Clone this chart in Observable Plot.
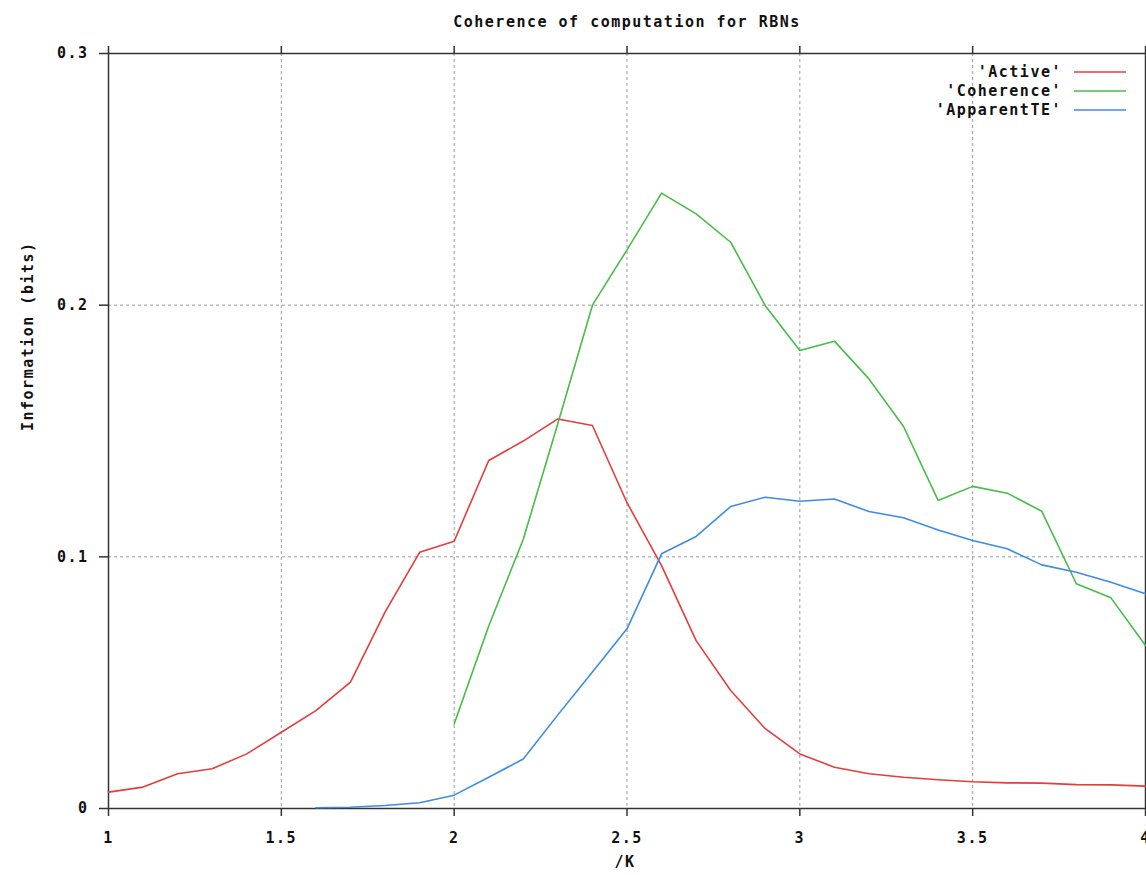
<!DOCTYPE html>
<html>
<head>
<meta charset="utf-8">
<script src="https://cdn.jsdelivr.net/npm/d3@7"></script>
<script src="https://cdn.jsdelivr.net/npm/@observablehq/plot@0.6"></script>
<style>
  html, body { margin: 0; padding: 0; background: #fff; }
  #wrap { position: relative; width: 1146px; height: 875px; overflow: hidden; }
  #legend { position: absolute; right: 0; top: 62px; font: bold 15px "DejaVu Sans Mono", monospace; letter-spacing: 1.5px; color: #111; }
  #legend .row { display: flex; align-items: center; justify-content: flex-end; height: 19px; }
  #legend svg { margin-left: 12px; margin-right: 20px; }
</style>
</head>
<body>
<div id="wrap"><div id="legend"></div></div>
<script>
// ---- data ----
const kActive = [1.0, 1.1, 1.2, 1.3, 1.4, 1.5, 1.6, 1.7, 1.8, 1.9, 2.0, 2.1, 2.2, 2.3, 2.4, 2.5, 2.6, 2.7, 2.8, 2.9, 3.0, 3.1, 3.2, 3.3, 3.4, 3.5, 3.6, 3.7, 3.8, 3.9, 4.0];
const active = [0.0065, 0.0085, 0.0138, 0.0158, 0.0217, 0.0303, 0.0389, 0.0502, 0.0780, 0.1018, 0.1062, 0.1383, 0.1460, 0.1548, 0.1522, 0.1215, 0.0965, 0.0667, 0.0469, 0.0317, 0.0217, 0.0164, 0.0138, 0.0124, 0.0114, 0.0106, 0.0102, 0.0101, 0.0095, 0.0094, 0.0089];

const kCoherence = [2.0, 2.1, 2.2, 2.3, 2.4, 2.5, 2.6, 2.7, 2.8, 2.9, 3.0, 3.1, 3.2, 3.3, 3.4, 3.5, 3.6, 3.7, 3.8, 3.9, 4.0];
const coherence = [0.0336, 0.0725, 0.1070, 0.1530, 0.2000, 0.2220, 0.2445, 0.2363, 0.2250, 0.1998, 0.1820, 0.1857, 0.1707, 0.1518, 0.1224, 0.1280, 0.1253, 0.1181, 0.0893, 0.0837, 0.0648];

const kApparentTE = [1.6, 1.7, 1.8, 1.9, 2.0, 2.1, 2.2, 2.3, 2.4, 2.5, 2.6, 2.7, 2.8, 2.9, 3.0, 3.1, 3.2, 3.3, 3.4, 3.5, 3.6, 3.7, 3.8, 3.9, 4.0];
const apparentTE = [0.0003, 0.0005, 0.0012, 0.0023, 0.0053, 0.0124, 0.0197, 0.0372, 0.0542, 0.0714, 0.1012, 0.1081, 0.1200, 0.1237, 0.1221, 0.1230, 0.1180, 0.1155, 0.1107, 0.1065, 0.1032, 0.0968, 0.0939, 0.0899, 0.0853];

const xTicks = [1, 1.5, 2, 2.5, 3, 3.5, 4];
const yTicks = [0, 0.1, 0.2, 0.3];
const xGrid = [1.5, 2, 2.5, 3, 3.5];
const yGrid = [0.1, 0.2];

const seriesNames = ["'Active'", "'Coherence'", "'ApparentTE'"];
const seriesColors = ["#e63c3c", "#46be46", "#3c8ce6"];

const titleText = "Coherence of computation for RBNs";
const xLabel = "/K";
const yLabel = "Information (bits)";

// ---- build ----
const toRows = (ks, vs) => ks.map((k, i) => ({k, v: vs[i]}));
const font = {fontFamily: "DejaVu Sans Mono", fontWeight: "bold", fontSize: 15};
const fmt = d => d === 0 ? "0" : String(d);
const blank = () => "";

const chart = Plot.plot({
  width: 1146,
  height: 875,
  marginLeft: 108,
  marginRight: 1,
  marginTop: 53,
  marginBottom: 67,
  style: {fontFamily: "DejaVu Sans Mono", fontWeight: "bold", fontSize: "15px", color: "#111", background: "#fff", overflow: "visible", letterSpacing: "1.5px"},
  x: {domain: [1, 4]},
  y: {domain: [0, 0.3]},
  marks: [
    Plot.ruleX(xGrid, {stroke: "#9a9a9a", strokeWidth: 1, strokeDasharray: "3,3"}),
    Plot.ruleY(yGrid, {stroke: "#9a9a9a", strokeWidth: 1, strokeDasharray: "3,3"}),
    Plot.axisX({ticks: xTicks, tickFormat: fmt, tickSize: 8, tickPadding: 16, stroke: "#333", strokeWidth: 1.5, label: null, fontSize: 15}),
    Plot.axisX({anchor: "top", ticks: xTicks, tickFormat: blank, tickSize: 8, stroke: "#333", strokeWidth: 1.5, label: null}),
    Plot.axisY({ticks: yTicks, tickFormat: fmt, tickSize: 9, tickPadding: 11, stroke: "#333", strokeWidth: 1.5, label: null, fontSize: 15}),
    Plot.frame({stroke: "#333", strokeWidth: 1.5}),
    Plot.line(toRows(kActive, active), {x: "k", y: "v", stroke: seriesColors[0], strokeWidth: 1.6}),
    Plot.line(toRows(kCoherence, coherence), {x: "k", y: "v", stroke: seriesColors[1], strokeWidth: 1.6}),
    Plot.line(toRows(kApparentTE, apparentTE), {x: "k", y: "v", stroke: seriesColors[2], strokeWidth: 1.6}),
    Plot.text([titleText], {frameAnchor: "top", dy: -37, dx: 0, ...font, fill: "#111"}),
    Plot.text([xLabel], {frameAnchor: "bottom", dy: 58, dx: -2, ...font, fill: "#111"}),
    Plot.text([yLabel], {frameAnchor: "left", dx: -80, rotate: -90, ...font, fill: "#111"})
  ]
});
document.getElementById("wrap").prepend(chart);

const legend = document.getElementById("legend");
const svgNS = "http://www.w3.org/2000/svg";
seriesNames.forEach((name, i) => {
  const row = document.createElement("div");
  row.className = "row";
  const t = document.createElement("span");
  t.textContent = name;
  const sw = document.createElementNS(svgNS, "svg");
  sw.setAttribute("width", "52");
  sw.setAttribute("height", "4");
  const ln = document.createElementNS(svgNS, "line");
  ln.setAttribute("x1", "0"); ln.setAttribute("x2", "52");
  ln.setAttribute("y1", "2"); ln.setAttribute("y2", "2");
  ln.setAttribute("stroke", seriesColors[i]);
  ln.setAttribute("stroke-width", "1.6");
  sw.appendChild(ln);
  row.appendChild(t);
  row.appendChild(sw);
  legend.appendChild(row);
});
</script>
</body>
</html>
